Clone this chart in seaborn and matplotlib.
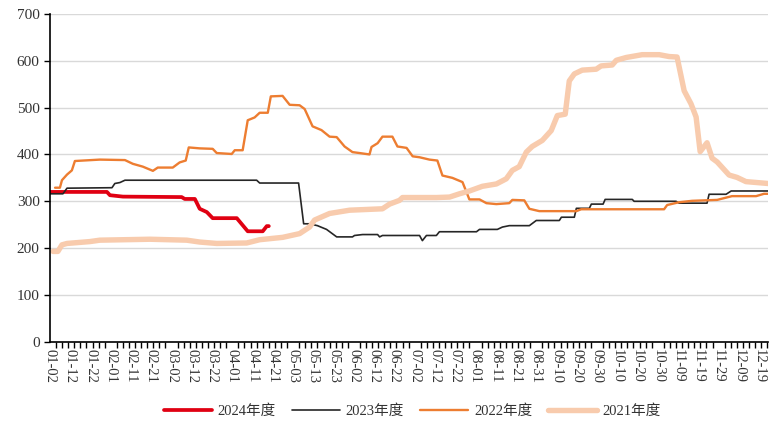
import matplotlib
matplotlib.use("Agg")
import matplotlib.pyplot as plt
import pandas as pd
import seaborn as sns
from matplotlib.ticker import MultipleLocator

# x axis is a category axis of dates, one label every 10 categories
date_labels = [
    "01-02", "01-12", "01-22", "02-01", "02-11", "02-21", "03-02", "03-12",
    "03-22", "04-01", "04-11", "04-21", "05-03", "05-13", "05-23", "06-02",
    "06-12", "06-22", "07-02", "07-12", "07-22", "08-01", "08-11", "08-21",
    "08-31", "09-10", "09-20", "09-30", "10-10", "10-20", "10-30", "11-09",
    "11-19", "11-29", "12-09", "12-19",
]
seasons = ["2024年度", "2023年度", "2022年度", "2021年度"]

# series: category position / value
idx_2024 = [0, 28.1, 29.6, 36, 65, 66.5, 71.5, 73.9, 77.4, 80.3, 92.2, 97.6,
            105, 107, 108]
val_2024 = [320, 320, 313, 310, 309, 305, 305, 284, 277, 264, 264, 236,
            236, 247, 247]

idx_2023 = [0, 6.4, 8.4, 30.6, 32, 34.5, 37, 102, 103.5, 122.7, 125.2, 128,
            132, 136.5, 141.5, 149.3, 150.3, 154.3, 161.7, 162.7, 164.1,
            182.4, 183.8, 185.8, 190.7, 192.2, 210.5, 212, 220.8, 223.3,
            226.7, 236.6, 240, 251.4, 252.4, 258.8, 259.8, 266.2, 267.2,
            273, 274, 287.4, 288.3, 309, 310.5, 324.3, 325.3, 333.7, 336.2,
            354.4]
val_2023 = [316, 316, 328, 329, 338, 340, 345, 345, 339, 339, 252, 252,
            248, 240, 224, 224, 227, 229, 229, 224, 227,
            227, 216, 227, 227, 235, 235, 240, 240, 245,
            248, 248, 259, 259, 266, 266, 285, 285, 294,
            294, 304, 304, 300, 300, 296, 296, 315, 315, 322,
            322]

idx_2022 = [2.5, 4.9, 5.9, 8.4, 10.8, 12.3, 24.6, 37, 40.9, 45.8, 50.8, 53.2,
            60.6, 64, 67, 68.5, 73.9, 80.3, 82.3, 89.7, 91.2, 95.1, 97.6,
            101, 103.5, 107.5, 109, 114.8, 118.3, 123.2, 125.7, 129.6, 134,
            138, 141.5, 145.4, 149.3, 152.8, 157.7, 158.7, 161.7, 164.1, 169,
            171.5, 176, 179, 182.4, 187.3, 191.2, 193.7, 198.6, 203.6, 207,
            212, 215.4, 220.3, 226.7, 228.2, 234.1, 236.6, 241.5, 259.8,
            262.2, 303.1, 304.6, 310.5, 316.9, 329.3, 336.6, 348.5, 352.4,
            354.4]
val_2022 = [329, 329, 345, 357, 366, 386, 389, 388, 380, 374, 365, 372,
            372, 383, 387, 415, 413, 412, 403, 401, 409, 409, 473,
            479, 489, 489, 524, 525, 506, 505, 497, 460, 452,
            438, 437, 417, 405, 403, 400, 416, 424, 438, 438,
            417, 414, 396, 394, 389, 387, 355, 350, 341, 304,
            304, 296, 294, 296, 303, 302, 284, 279, 279,
            283, 283, 292, 298, 301, 303, 311, 311, 316,
            316]

idx_2021 = [1.5, 3.9, 5.9, 8.4, 19.7, 24.6, 49.3, 67.5, 73.9, 82.3, 97.1,
            103.5, 114.8, 123.2, 128.1, 130.6, 138, 147.9, 164.1, 167.6,
            172.5, 174, 190.7, 197.2, 202.1, 207, 213.4, 220.3, 225.2, 228.2,
            231.6, 235.1, 238, 243, 247.4, 250.4, 254.3, 256.3, 258.8, 262.7,
            269.6, 272, 277.5, 279.5, 284.4, 292.3, 300.7, 305.6, 309.5, 313,
            316.4, 318.9, 320.9, 324.3, 326.8, 329.3, 335.2, 339.1, 343.5,
            354.4]
val_2021 = [193, 193, 207, 210, 214, 217, 219, 217, 213, 210, 211,
            218, 223, 231, 245, 260, 274, 281, 284, 294,
            302, 308, 308, 309, 316, 322, 332, 337, 348, 366,
            374, 405, 417, 430, 451, 483, 486, 557, 572, 580,
            582, 589, 591, 601, 607, 613, 613, 609, 608, 536,
            508, 480, 406, 425, 392, 384, 356, 351, 342,
            338]

colors = {"2024年度": "#E00012", "2023年度": "#262626",
          "2022年度": "#ED7D31", "2021年度": "#F8CBAD"}
widths = {"2024年度": 2.7, "2023年度": 1.2, "2022年度": 1.7, "2021年度": 3.9}


def build_frame() -> pd.DataFrame:
    parts = []
    for name, xs, ys in zip(seasons,
                            [idx_2024, idx_2023, idx_2022, idx_2021],
                            [val_2024, val_2023, val_2022, val_2021]):
        parts.append(pd.DataFrame({"idx": xs, "value": ys, "season": name}))
    return pd.concat(parts, ignore_index=True)


def main() -> None:
    sns.set_style("white")
    plt.rcParams["font.family"] = ["Liberation Serif", "Noto Sans CJK SC"]

    fig, ax = plt.subplots(figsize=(7.69, 4.22), dpi=100)
    fig.subplots_adjust(left=0.065, right=0.999, top=0.967, bottom=0.19)

    df = build_frame()
    sns.lineplot(data=df, x="idx", y="value", hue="season", hue_order=seasons,
                 palette=colors, size="season", size_order=seasons,
                 sizes=widths, estimator=None, sort=False, legend=False, ax=ax)
    for line in ax.lines:
        line.set_solid_joinstyle("round")

    ax.set_xlim(0, 354.5)
    ax.set_ylim(0, 700)
    ax.set_yticks(range(0, 701, 100))
    ax.yaxis.grid(True, color="#D9D9D9", lw=1)
    ax.set_axisbelow(True)
    ax.set_xlabel("")
    ax.set_ylabel("")

    ax.set_xticks(range(0, 10 * len(date_labels), 10))
    ax.set_xticklabels(date_labels, rotation=-90)
    ax.xaxis.set_minor_locator(MultipleLocator(3))
    ax.tick_params(axis="x", which="major", length=0, pad=5,
                   labelsize=10.5, labelcolor="#333333")
    ax.tick_params(axis="x", which="minor", length=4, width=1, color="black",
                   direction="out", bottom=True)
    ax.tick_params(axis="y", length=4, width=1, color="black", direction="out",
                   labelsize=11, labelcolor="#333333", left=True)

    for side in ["top", "right"]:
        ax.spines[side].set_visible(False)
    for side in ["left", "bottom"]:
        ax.spines[side].set_color("black")
        ax.spines[side].set_linewidth(1.2)

    fig.legend(ax.lines, seasons, loc="center", bbox_to_anchor=(0.536, 0.026),
               ncol=4, frameon=False, handlelength=3.3, handletextpad=0.4,
               columnspacing=1.1, fontsize=10.5, labelcolor="#333333")

    fig.savefig("out.png", dpi=100)


if __name__ == "__main__":
    main()
